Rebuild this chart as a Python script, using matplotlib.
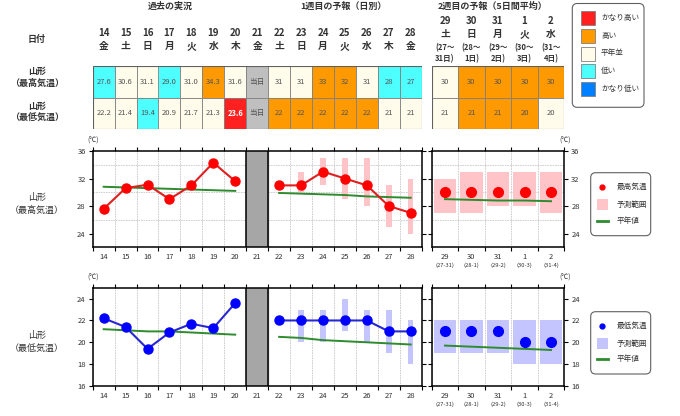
import matplotlib
matplotlib.use("Agg")
import matplotlib.pyplot as plt
from matplotlib.patches import Rectangle, FancyBboxPatch
import matplotlib.transforms as mtransforms

plt.rcParams["font.family"] = ["Noto Sans CJK JP", "DejaVu Sans"]

# ---- data ----
days_past = [14, 15, 16, 17, 18, 19, 20]
wday_past = ["金", "土", "日", "月", "火", "水", "木"]
hi_obs = [27.6, 30.6, 31.1, 29.0, 31.0, 34.3, 31.6]
lo_obs = [22.2, 21.4, 19.4, 20.9, 21.7, 21.3, 23.6]
hi_norm_past = [30.8, 30.7, 30.6, 30.5, 30.4, 30.3, 30.2]
lo_norm_past = [21.2, 21.1, 21.0, 21.0, 20.9, 20.8, 20.7]
hi_cls_past = ["low", "normal", "normal", "low", "normal", "high", "normal"]
lo_cls_past = ["normal", "normal", "low", "normal", "normal", "normal", "vhigh"]

today = 21
today_wday = "金"

days_wk1 = [22, 23, 24, 25, 26, 27, 28]
wday_wk1 = ["土", "日", "月", "火", "水", "木", "金"]
hi_fc = [31, 31, 33, 32, 31, 28, 27]
hi_fc_min = [None, 30, 31, 29, 28, 25, 24]
hi_fc_max = [None, 33, 35, 35, 35, 31, 32]
lo_fc = [22, 22, 22, 22, 22, 21, 21]
lo_fc_min = [None, 20, 20, 21, 20, 19, 18]
lo_fc_max = [None, 23, 23, 24, 23, 23, 22]
hi_norm_wk1 = [29.9, 29.8, 29.7, 29.6, 29.4, 29.3, 29.2]
lo_norm_wk1 = [20.5, 20.4, 20.2, 20.1, 20.0, 19.9, 19.8]
hi_cls_wk1 = ["normal", "normal", "high", "high", "normal", "low", "low"]
lo_cls_wk1 = ["high", "high", "high", "high", "high", "normal", "normal"]

wk2_day = ["29", "30", "31", "1", "2"]
wk2_wday = ["土", "日", "月", "火", "水"]
wk2_span = ["(27～\n31日)", "(28～\n1日)", "(29～\n2日)", "(30～\n3日)", "(31～\n4日)"]
wk2_tick_span = ["(27-31)", "(28-1)", "(29-2)", "(30-3)", "(31-4)"]
hi_wk2 = [30, 30, 30, 30, 30]
hi_wk2_min = [27, 27, 28, 28, 27]
hi_wk2_max = [32, 33, 33, 33, 33]
lo_wk2 = [21, 21, 21, 20, 20]
lo_wk2_min = [19, 19, 19, 18, 18]
lo_wk2_max = [22, 22, 22, 22, 22]
hi_norm_wk2 = [29.0, 28.9, 28.8, 28.8, 28.7]
lo_norm_wk2 = [19.7, 19.6, 19.5, 19.4, 19.3]
hi_cls_wk2 = ["normal", "high", "high", "high", "high"]
lo_cls_wk2 = ["normal", "high", "high", "high", "normal"]

cls_colors = {"vhigh": "#FF2020", "high": "#FF9900", "normal": "#FFFCEB",
              "low": "#4DFFFF", "vlow": "#0080FF"}
cls_names = [("vhigh", "かなり高い"), ("high", "高い"), ("normal", "平年並"),
             ("low", "低い"), ("vlow", "かなり低い")]

RED = "#FF0000"
RED_LINE = "#E02020"
PINK = "#FFC4C8"
BLUE = "#0000FF"
BLUE_LINE = "#2828D0"
LAV = "#C4C4FF"
GREEN = "#2E8B2E"
TXT = "#333333"
W, H = 680, 416


def rect(l, t, r, b):
    return [l / W, 1 - b / H, (r - l) / W, (b - t) / H]


fig = plt.figure(figsize=(6.8, 4.16), dpi=100)
ov = fig.add_axes([0, 0, 1, 1], zorder=10)
ov.set_xlim(0, W)
ov.set_ylim(H, 0)
ov.axis("off")

# ---- header texts ----
ov.text(170, 6, "過去の実況", ha="center", va="center", fontsize=6.5, weight="bold", color=TXT)
ov.text(343, 6, "1週目の予報（日別）", ha="center", va="center", fontsize=6.5, weight="bold", color=TXT)
ov.text(493, 6, "2週目の予報（5日間平均）", ha="center", va="center", fontsize=6.5, weight="bold", color=TXT)
ov.text(37, 39, "日付", ha="center", va="center", fontsize=6.5, weight="bold", color=TXT)
ov.text(37, 77, "山形\n（最高気温）", ha="center", va="center", fontsize=6.5, weight="bold",
        color=TXT, linespacing=1.4)
ov.text(37, 112, "山形\n（最低気温）", ha="center", va="center", fontsize=6.5, weight="bold",
        color=TXT, linespacing=1.4)
ov.text(37, 204, "山形\n（最高気温）", ha="center", va="center", fontsize=6.5, color=TXT,
        linespacing=1.6)
ov.text(37, 342, "山形\n（最低気温）", ha="center", va="center", fontsize=6.5, color=TXT,
        linespacing=1.6)

# ---- table block 1 ----
X1L, X1R, X2L, X2R = 92.7, 421.7, 431.7, 564.3
tb1 = fig.add_axes(rect(X1L, 65.7, X1R, 129.3))
tb1.set_xlim(13.5, 28.5)
tb1.set_ylim(2, 0)
tb1.axis("off")
tb2 = fig.add_axes(rect(X2L, 65.7, X2R, 129.3))
tb2.set_xlim(-0.5, 4.5)
tb2.set_ylim(2, 0)
tb2.axis("off")


def cell(ax, x, row, txt, cls, gray=False):
    fc = "#BFBFBF" if gray else cls_colors[cls]
    ax.add_patch(Rectangle((x - 0.5, row), 1, 1, facecolor=fc, edgecolor="#808080", lw=0.6))
    col = "white" if cls == "vhigh" else "#555555"
    ax.text(x, row + 0.5, txt, ha="center", va="center", fontsize=5.5, color=col,
            weight="bold" if cls == "vhigh" else "normal")


for d, v, c in zip(days_past, hi_obs, hi_cls_past):
    cell(tb1, d, 0, f"{v:.1f}", c)
for d, v, c in zip(days_past, lo_obs, lo_cls_past):
    cell(tb1, d, 1, f"{v:.1f}", c)
cell(tb1, today, 0, "当日", None, gray=True)
cell(tb1, today, 1, "当日", None, gray=True)
for d, v, c in zip(days_wk1, hi_fc, hi_cls_wk1):
    cell(tb1, d, 0, str(v), c)
for d, v, c in zip(days_wk1, lo_fc, lo_cls_wk1):
    cell(tb1, d, 1, str(v), c)
for i, (v, c) in enumerate(zip(hi_wk2, hi_cls_wk2)):
    cell(tb2, i, 0, str(v), c)
for i, (v, c) in enumerate(zip(lo_wk2, lo_cls_wk2)):
    cell(tb2, i, 1, str(v), c)
tb1.add_patch(Rectangle((13.5, 0), 15, 2, fill=False, edgecolor="#606060", lw=0.8))
tb2.add_patch(Rectangle((-0.5, 0), 5, 2, fill=False, edgecolor="#606060", lw=0.8))

# date headers
for d, w in zip(days_past + [today] + days_wk1, wday_past + [today_wday] + wday_wk1):
    x = X1L + (d - 13.5) / 15 * (X1R - X1L)
    ov.text(x, 33, str(d), ha="center", va="center", fontsize=7, weight="bold", color=TXT)
    ov.text(x, 46, w, ha="center", va="center", fontsize=7, weight="bold", color=TXT)
for i in range(5):
    x = X2L + (i + 0.5) / 5 * (X2R - X2L)
    ov.text(x, 21, wk2_day[i], ha="center", va="center", fontsize=7, weight="bold", color=TXT)
    ov.text(x, 34, wk2_wday[i], ha="center", va="center", fontsize=7, weight="bold", color=TXT)
    ov.text(x, 53.5, wk2_span[i], ha="center", va="center", fontsize=5.5, weight="bold",
            color=TXT, linespacing=1.3)

# legend (class colors)
ov.add_patch(FancyBboxPatch((572.3, 3.5), 71.7, 103.8, boxstyle="round,pad=0,rounding_size=5",
                            facecolor="white", edgecolor="#606060", lw=0.8))
for k, (c, name) in enumerate(cls_names):
    y = 17.7 + k * 17.9
    ov.add_patch(Rectangle((580.5, y - 7), 14.5, 14, facecolor=cls_colors[c],
                           edgecolor="#808080", lw=0.6))
    ov.text(601, y, name, ha="left", va="center", fontsize=5.5, color=TXT)


# ---- charts ----
def style(ax, yt, yminor, side="left"):
    for s in ax.spines.values():
        s.set_linewidth(1.1)
        s.set_color("black")
    ax.set_yticks(yt)
    ax.set_yticks(yminor, minor=True)
    ax.tick_params(axis="y", which="major", length=3, labelsize=5.5, labelcolor=TXT,
                   left=(side == "left"), right=(side == "right"),
                   labelleft=(side == "left"), labelright=(side == "right"), pad=2)
    ax.tick_params(axis="y", which="minor", length=0)
    ax.tick_params(axis="x", which="major", length=3, top=True, labelbottom=False)
    ax.tick_params(axis="x", which="minor", length=0, labelsize=5.5, labelcolor=TXT, pad=4)
    ax.grid(True, which="major", axis="x", color="#C8C8C8", lw=0.6, ls=(0, (2, 1)))
    ax.grid(True, which="minor", axis="y", color="#C8C8C8", lw=0.6, ls=(0, (2, 1)))
    ax.set_axisbelow(True)


def week1_panel(top, bot, ylim, yt, yminor, obs, nrm_p, fc, fmin, fmax, nrm_w, col, lcol, rcol):
    ax = fig.add_axes(rect(X1L, top, X1R, bot))
    ax.set_xlim(13.5, 28.5)
    ax.set_ylim(*ylim)
    style(ax, yt, yminor, "left")
    ax.set_xticks([x + 0.5 for x in range(13, 29)])
    ax.set_xticks(days_past + [today] + days_wk1, minor=True)
    ax.set_xticklabels([str(d) for d in days_past + [today] + days_wk1], minor=True)
    ax.tick_params(axis="y", which="major", right=True, length=3)
    ax.axvspan(today - 0.5, today + 0.5, color="#A6A6A6", zorder=2)
    ax.axvline(today - 0.5, color="black", lw=1.1, zorder=3)
    ax.axvline(today + 0.5, color="black", lw=1.1, zorder=3)
    rd = [d for d, a in zip(days_wk1, fmin) if a is not None]
    lo = [a for a in fmin if a is not None]
    hi = [b for b in fmax if b is not None]
    ax.bar(rd, [b - a for a, b in zip(lo, hi)], bottom=lo, width=0.25, color=rcol,
           zorder=2, lw=0)
    ax.plot(days_past, nrm_p, color=GREEN, lw=1.4, zorder=3)
    ax.plot(days_wk1, nrm_w, color=GREEN, lw=1.4, zorder=3)
    ax.plot(days_past, obs, color=lcol, lw=1.5, marker="o", ms=6.5, mfc=col, mec=col, zorder=4)
    ax.plot(days_wk1, fc, color=lcol, lw=1.5, marker="o", ms=6.5, mfc=col, mec=col, zorder=4)
    ov.text(X1L, top - 10, "(℃)", ha="center", va="center", fontsize=5, color=TXT)
    return ax


def week2_panel(top, bot, ylim, yt, yminor, val, vmin, vmax, nrm, col, rcol):
    ax = fig.add_axes(rect(X2L, top, X2R, bot))
    ax.set_xlim(-0.5, 4.5)
    ax.set_ylim(*ylim)
    style(ax, yt, yminor, "right")
    ax.tick_params(axis="y", which="major", left=True, length=3)
    idx = list(range(len(val)))
    ax.set_xticks([i + 0.5 for i in range(-1, 5)])
    ax.set_xticks(idx, minor=True)
    ax.set_xticklabels(wk2_day, minor=True)
    ax.bar(idx, [b - a for a, b in zip(vmin, vmax)], bottom=vmin, width=0.86, color=rcol,
           zorder=2, lw=0)
    ax.plot(idx, nrm, color=GREEN, lw=1.4, zorder=3)
    ax.plot(idx, val, ls="none", marker="o", ms=7, mfc=col, mec=col, zorder=4)
    tr = mtransforms.blended_transform_factory(ax.transData, ax.transAxes)
    for i, s in zip(idx, wk2_tick_span):
        ax.text(i, -0.19, s, transform=tr, ha="center", va="center", fontsize=4.2, color=TXT)
    ov.text(X2R + 1, top - 10, "(℃)", ha="center", va="center", fontsize=5, color=TXT)
    return ax


def chart_legend(top, bot, label, col, rcol):
    ov.add_patch(FancyBboxPatch((590.7, top), 60, bot - top,
                                boxstyle="round,pad=0,rounding_size=5",
                                facecolor="white", edgecolor="#606060", lw=0.8))
    h = bot - top
    y1, y2, y3 = top + h * 0.23, top + h * 0.51, top + h * 0.76
    ov.plot([601.7], [y1], marker="o", ms=3.5, color=col, ls="none")
    ov.add_patch(Rectangle((596.5, y2 - 5.5), 11, 11, facecolor=rcol, lw=0))
    ov.plot([596.5, 607.5], [y3, y3], color=GREEN, lw=2)
    ov.text(616.5, y1, label, ha="left", va="center", fontsize=5.5, color=TXT)
    ov.text(616.5, y2, "予測範囲", ha="left", va="center", fontsize=5.5, color=TXT)
    ov.text(616.5, y3, "平年値", ha="left", va="center", fontsize=5.5, color=TXT)


week1_panel(151, 247.3, (22, 36), [24, 28, 32, 36], list(range(22, 37, 2)),
            hi_obs, hi_norm_past, hi_fc, hi_fc_min, hi_fc_max, hi_norm_wk1, RED, RED_LINE, PINK)
week2_panel(151, 247.3, (22, 36), [24, 28, 32, 36], list(range(22, 37, 2)),
            hi_wk2, hi_wk2_min, hi_wk2_max, hi_norm_wk2, RED, PINK)
chart_legend(172.7, 235.7, "最高気温", RED, PINK)

week1_panel(287.7, 386, (16, 25), [16, 18, 20, 22, 24], [16, 18, 20, 22, 24],
            lo_obs, lo_norm_past, lo_fc, lo_fc_min, lo_fc_max, lo_norm_wk1, BLUE, BLUE_LINE, LAV)
week2_panel(287.7, 386, (16, 25), [16, 18, 20, 22, 24], [16, 18, 20, 22, 24],
            lo_wk2, lo_wk2_min, lo_wk2_max, lo_norm_wk2, BLUE, LAV)
chart_legend(311.7, 374, "最低気温", BLUE, LAV)

fig.savefig("out.png", dpi=100)
